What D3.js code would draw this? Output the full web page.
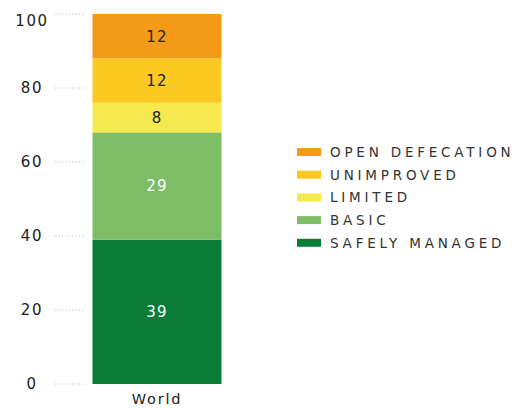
<!DOCTYPE html>
<html>
<head>
<meta charset="utf-8">
<script src="https://cdn.jsdelivr.net/npm/d3@7"></script>
<style>
  html, body { margin: 0; padding: 0; background: #fff; }
  svg { display: block; }
</style>
</head>
<body>
<svg id="chart" width="517" height="408"></svg>
<script>
const categories = ["World"];
const seriesNames = ["SAFELY MANAGED", "BASIC", "LIMITED", "UNIMPROVED", "OPEN DEFECATION"];
const safelyManaged = [39];
const basic = [29];
const limited = [8];
const unimproved = [12];
const openDefecation = [12];
const seriesColors = ["#0B7C37", "#7DBD66", "#F5E94F", "#FCC922", "#F39A16"];
const labelColors = ["#ffffff", "#ffffff", "#222222", "#222222", "#222222"];
const yTicks = [0, 20, 40, 60, 80, 100];

const seriesValues = [safelyManaged, basic, limited, unimproved, openDefecation];
const rows = categories.map((c, i) => {
  const r = { category: c };
  seriesNames.forEach((s, j) => r[s] = seriesValues[j][i]);
  return r;
});
const stacked = d3.stack().keys(seriesNames)(rows);

const svg = d3.select("#chart");
const y = d3.scaleLinear().domain([0, 100]).range([384, 14]);
const x = d3.scaleBand().domain(categories).range([92.5, 221.5]).padding(0);
const color = d3.scaleOrdinal().domain(seriesNames).range(seriesColors);

// y axis: dotted tick lines and labels
const axisG = svg.append("g");
const tickG = axisG.selectAll("g").data(yTicks).join("g");
tickG.append("line")
  .attr("x1", 55).attr("x2", 84)
  .attr("y1", d => y(d)).attr("y2", d => y(d))
  .attr("stroke", "#c0c0c0").attr("stroke-width", 1)
  .attr("stroke-dasharray", "1.2,2.2");
tickG.append("text")
  .attr("x", 32)
  .attr("y", d => Math.max(y(d), 21))
  .attr("dy", "0.36em")
  .attr("text-anchor", "middle")
  .attr("font-family", "DejaVu Sans, sans-serif")
  .attr("font-size", 15)
  .attr("letter-spacing", "1.6px")
  .attr("fill", "#222")
  .text(d => d);

// bars
const layers = svg.append("g").selectAll("g").data(stacked).join("g")
  .attr("fill", d => color(d.key));
layers.selectAll("rect").data(d => d).join("rect")
  .attr("x", d => x(d.data.category))
  .attr("width", x.bandwidth())
  .attr("y", d => y(d[1]))
  .attr("height", d => y(d[0]) - y(d[1]));

// value labels
svg.append("g").selectAll("text")
  .data(stacked.map((s, j) => ({ key: s.key, j, seg: s[0] })))
  .join("text")
  .attr("x", d => x(d.seg.data.category) + x.bandwidth() / 2)
  .attr("y", d => (y(d.seg[0]) + y(d.seg[1])) / 2)
  .attr("dy", "0.36em")
  .attr("text-anchor", "middle")
  .attr("font-family", "DejaVu Sans, sans-serif")
  .attr("font-size", 15)
  .attr("letter-spacing", "1.2px")
  .attr("fill", d => labelColors[d.j])
  .text(d => d.seg[1] - d.seg[0]);

// x axis label
svg.append("g").selectAll("text").data(categories).join("text")
  .attr("x", d => x(d) + x.bandwidth() / 2)
  .attr("y", 398.5)
  .attr("dy", "0.36em")
  .attr("text-anchor", "middle")
  .attr("font-family", "DejaVu Sans, sans-serif")
  .attr("font-size", 14.5)
  .attr("letter-spacing", "1.8px")
  .attr("fill", "#222")
  .text(d => d);

// legend
const legendOrder = seriesNames.slice().reverse();
const legend = svg.append("g").selectAll("g").data(legendOrder).join("g")
  .attr("transform", (d, i) => `translate(297, ${152 + i * 22.7})`);
legend.append("rect")
  .attr("x", 0).attr("y", -4).attr("width", 24).attr("height", 8)
  .attr("fill", d => color(d));
legend.append("text")
  .attr("x", 33).attr("y", 0).attr("dy", "0.36em")
  .attr("font-family", "DejaVu Sans, sans-serif")
  .attr("font-size", 13.5)
  .attr("letter-spacing", "3.8px")
  .attr("fill", "#333")
  .text(d => d);
</script>
</body>
</html>
